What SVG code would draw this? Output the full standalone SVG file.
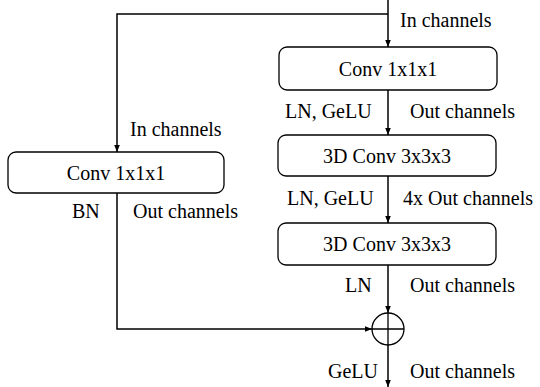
<svg xmlns="http://www.w3.org/2000/svg" width="540" height="387" viewBox="0 0 540 387">
  <style>
    .box { fill: #fff; stroke: #000; stroke-width: 1.3; }
    .wire { fill: none; stroke: #000; stroke-width: 1.5; }
    .lbl { font-family: 'Liberation Serif', 'Times New Roman', serif; font-size: 20px; fill: #000; }
    .mid { text-anchor: middle; }
  </style>
  <defs>
    <marker id="arrow" viewBox="0 0 7 6" refX="7" refY="3" markerWidth="7" markerHeight="6" markerUnits="userSpaceOnUse" orient="auto">
      <path d="M0,0.2 L7,3 L0,5.8 Z" fill="#000"/>
    </marker>
  </defs>

  <rect width="540" height="387" fill="#fff"/>

  <g id="connectors">
    <!-- main path -->
    <path class="wire" d="M388,0 V47" marker-end="url(#arrow)"/>
    <path class="wire" d="M388,90 V135" marker-end="url(#arrow)"/>
    <path class="wire" d="M388,176 V223" marker-end="url(#arrow)"/>
    <path class="wire" d="M388,265 V313" marker-end="url(#arrow)"/>
    <path class="wire" d="M388,345 V387" marker-end="url(#arrow)"/>
    <!-- shortcut branch -->
    <path class="wire" d="M388,14 H117 V152" marker-end="url(#arrow)"/>
    <path class="wire" d="M117,193 V329 H372" marker-end="url(#arrow)"/>
  </g>

  <g id="conv1">
    <rect class="box" x="279" y="47" width="218" height="43" rx="8"/>
    <text class="lbl mid" x="388" y="76">Conv 1x1x1</text>
  </g>

  <g id="conv3d-a">
    <rect class="box" x="278" y="135" width="218" height="41" rx="8"/>
    <text class="lbl mid" x="387" y="163">3D Conv 3x3x3</text>
  </g>

  <g id="conv3d-b">
    <rect class="box" x="278" y="223" width="218" height="42" rx="8"/>
    <text class="lbl mid" x="387" y="251">3D Conv 3x3x3</text>
  </g>

  <g id="shortcut-conv">
    <rect class="box" x="8" y="152" width="216" height="41" rx="8"/>
    <text class="lbl mid" x="116" y="180">Conv 1x1x1</text>
  </g>

  <g id="add">
    <circle cx="388" cy="329" r="16" fill="#fff" stroke="#000" stroke-width="1.3"/>
    <path d="M372,329 H404 M388,313 V345" stroke="#000" stroke-width="1.3"/>
  </g>

  <g id="labels" class="lbl">
    <text x="400" y="27">In channels</text>
    <text x="285" y="118">LN, GeLU</text>
    <text x="410" y="118">Out channels</text>
    <text x="287" y="205">LN, GeLU</text>
    <text x="403" y="205">4x Out channels</text>
    <text x="345" y="292">LN</text>
    <text x="410" y="292">Out channels</text>
    <text x="328" y="378">GeLU</text>
    <text x="410" y="378">Out channels</text>
    <text x="130" y="136">In channels</text>
    <text x="72" y="218">BN</text>
    <text x="133" y="218">Out channels</text>
  </g>
</svg>
